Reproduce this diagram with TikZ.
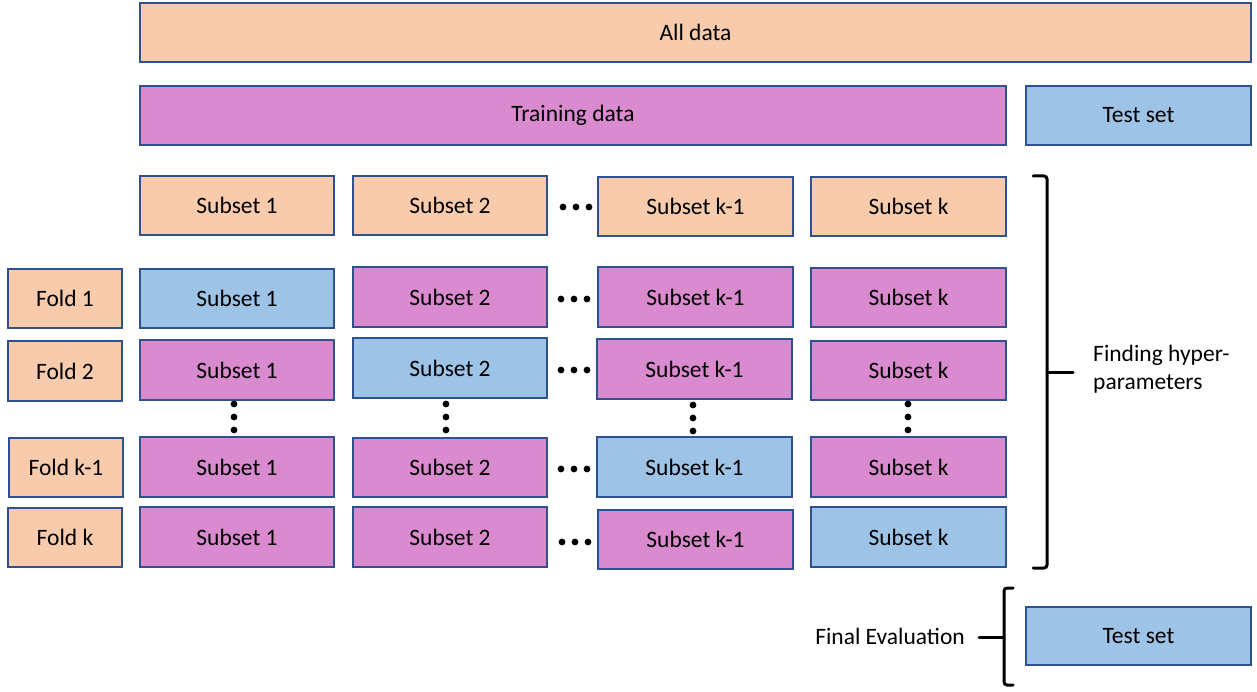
\documentclass[tikz,border=0pt]{standalone}
\usepackage{fontspec}
\setmainfont{Carlito}
\definecolor{peach}{HTML}{F8CBAD}
\definecolor{pinkk}{HTML}{DA8ACF}
\definecolor{bluee}{HTML}{9DC3E6}
\definecolor{edgeb}{HTML}{2F528F}
\tikzset{
  boxbase/.style={draw=edgeb, line width=1.2pt, inner sep=0pt, font=\fontsize{23.5}{28}\selectfont, text=black},
  pe/.style={boxbase, fill=peach},
  pk/.style={boxbase, fill=pinkk},
  bl/.style={boxbase, fill=bluee},
  dotm/.style={fill=black, draw=none},
  bracel/.style={line width=3pt, rounded corners=3pt, line cap=round},
  lbl/.style={font=\fontsize{23.5}{28.5}\selectfont, inner sep=0pt}
}
\newcommand\mybox[7]{%
  \node[#6, minimum width={(#4-#2)*1pt}, minimum height={(#5-#3)*1pt}] (#1) at ({(#2+#4)/2},{(#3+#5)/2}) {#7};}
\newcommand\mydot[2]{\fill[dotm] (#1,#2) circle (3.4pt);}
\begin{document}
\begin{tikzpicture}[x=1pt,y=-1pt]
\useasboundingbox (0,0) rectangle (1257,692);
% top
\mybox{all}{140}{3}{1251}{62}{pe}{All data}
\mybox{train}{140}{86}{1006}{145}{pk}{Training data}
\mybox{test}{1026}{86}{1251}{145}{bl}{Test set}
% row 0
\mybox{r0a}{140}{176}{334}{235}{pe}{Subset 1}
\mybox{r0b}{353}{176}{547}{235}{pe}{Subset 2}
\mybox{r0c}{598}{177}{793}{236}{pe}{Subset k-1}
\mybox{r0d}{811}{177}{1006}{236}{pe}{Subset k}
% fold 1
\mybox{f1}{8}{269}{122}{328}{pe}{Fold 1}
\mybox{r1a}{140}{269}{334}{328}{bl}{Subset 1}
\mybox{r1b}{353}{267}{547}{327}{pk}{Subset 2}
\mybox{r1c}{598}{267}{793}{327}{pk}{Subset k-1}
\mybox{r1d}{811}{268}{1006}{327}{pk}{Subset k}
% fold 2
\mybox{f2}{8}{341}{122}{401}{pe}{Fold 2}
\mybox{r2a}{140}{340}{334}{400}{pk}{Subset 1}
\mybox{r2b}{353}{338}{547}{398}{bl}{Subset 2}
\mybox{r2c}{597}{339}{792}{399}{pk}{Subset k-1}
\mybox{r2d}{811}{341}{1006}{400}{pk}{Subset k}
% fold k-1
\mybox{f3}{9}{438}{123}{497}{pe}{Fold k-1}
\mybox{r3a}{140}{437}{334}{497}{pk}{Subset 1}
\mybox{r3b}{353}{438}{547}{497}{pk}{Subset 2}
\mybox{r3c}{597}{437}{792}{497}{bl}{Subset k-1}
\mybox{r3d}{811}{437}{1006}{497}{pk}{Subset k}
% fold k
\mybox{f4}{8}{508}{122}{567}{pe}{Fold k}
\mybox{r4a}{140}{507}{334}{567}{pk}{Subset 1}
\mybox{r4b}{353}{507}{547}{567}{pk}{Subset 2}
\mybox{r4c}{598}{510}{793}{569}{pk}{Subset k-1}
\mybox{r4d}{811}{507}{1006}{567}{bl}{Subset k}
% horizontal dots
\foreach \yy/\xx in {207/563, 299/561, 370/561, 469/561, 542/562}{
  \mydot{\xx}{\yy}\mydot{\xx+13}{\yy}\mydot{\xx+26}{\yy}}
% vertical dots
\foreach \xx/\yy in {234/404, 446/404, 693/405, 908/404}{
  \mydot{\xx}{\yy}\mydot{\xx}{\yy+13}\mydot{\xx}{\yy+26}}
% big brace
\draw[bracel] (1033,176) -- (1047,176) -- (1047,568) -- (1033,568);
\draw[bracel, rounded corners=0pt] (1047,372) -- (1073,372);
\node[lbl, anchor=west, align=left] (hyp) at (1093,369) {Finding hyper-\\parameters};
% final evaluation brace
\draw[bracel] (1013,588) -- (1004,588) -- (1004,685) -- (1013,685);
\draw[bracel, rounded corners=0pt] (1004,637) -- (979,637);
\node[lbl, anchor=east] (fe) at (965,636) {Final Evaluation};
\mybox{test2}{1026}{607}{1251}{665}{bl}{Test set}
\end{tikzpicture}
\end{document}
